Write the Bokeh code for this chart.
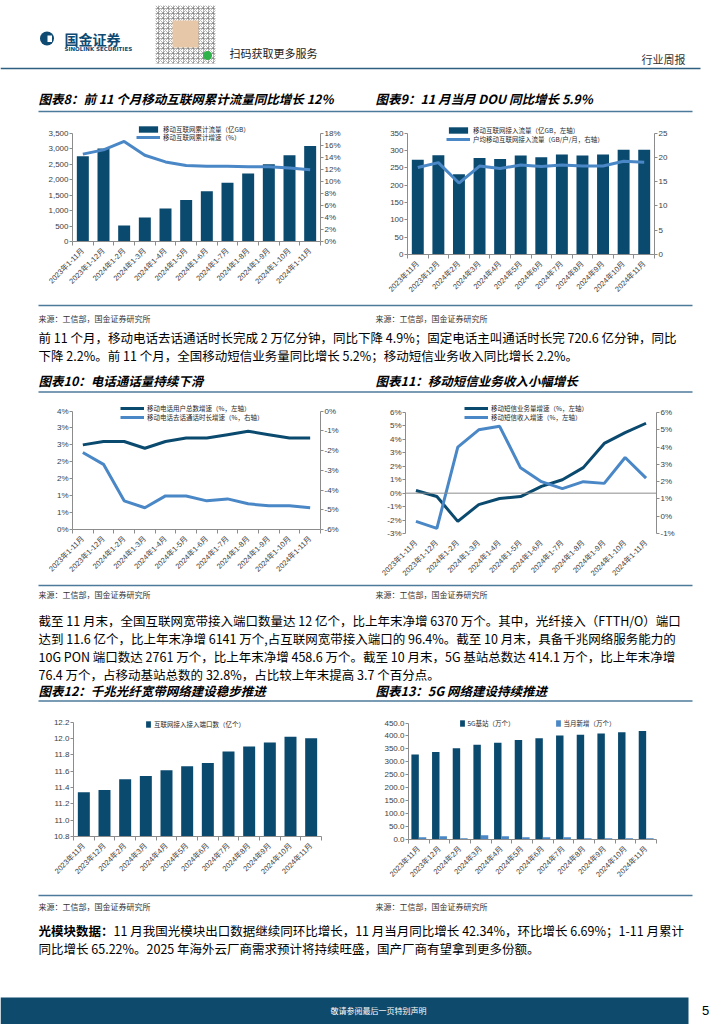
import math
from bokeh.plotting import figure
from bokeh.models import (Range1d, LinearAxis, FixedTicker, Legend, LegendItem, Span,
                          NumeralTickFormatter, PrintfTickFormatter, ColumnDataSource)
from bokeh.transform import dodge
from bokeh.layouts import column, row
from bokeh.embed import file_html
from bokeh.resources import INLINE
from bokeh.core.properties import value

# ---------------- data ----------------
cats_cum = ["2023年1-11月", "2023年1-12月", "2024年1-2月", "2024年1-3月", "2024年1-4月", "2024年1-5月",
            "2024年1-6月", "2024年1-7月", "2024年1-8月", "2024年1-9月", "2024年1-10月", "2024年1-11月"]
cats_month = ["2023年11月", "2023年12月", "2024年2月", "2024年3月", "2024年4月", "2024年5月",
              "2024年6月", "2024年7月", "2024年8月", "2024年9月", "2024年10月", "2024年11月"]

traffic_cum = [2750, 3000, 520, 775, 1065, 1335, 1625, 1895, 2195, 2490, 2780, 3080]      # 亿GB
traffic_cum_yoy = [14.5, 15.2, 16.6, 14.3, 13.2, 12.6, 12.5, 12.5, 12.4, 12.4, 12.2, 11.9]  # %

traffic_month = [273, 286, 231, 278, 275, 285, 280, 288, 285, 288, 302, 302]               # 亿GB
dou = [17.9, 18.9, 14.7, 18.2, 17.7, 18.4, 18.1, 18.4, 18.2, 18.2, 19.2, 19.0]             # GB/户/月

users_yoy = [2.5, 2.6, 2.6, 2.4, 2.6, 2.7, 2.7, 2.8, 2.9, 2.8, 2.7, 2.7]                   # %
call_yoy = [-2.1, -2.7, -4.55, -4.9, -4.3, -4.3, -4.55, -4.45, -4.7, -4.8, -4.8, -4.9]       # %
users_ticks = [0, 0.5, 1.0, 1.5, 2.0, 2.5, 3.0, 3.5]
users_tick_labels = ["0%", "1%", "1%", "2%", "2%", "3%", "3%", "4%"]

sms_volume_yoy = [0.2, -0.25, -2.1, -0.85, -0.4, -0.25, 0.5, 1.0, 1.9, 3.7, 4.5, 5.2]     # %
sms_revenue_yoy = [-0.3, -0.7, 4.0, 5.0, 5.2, 2.8, 2.0, 1.6, 2.0, 1.9, 3.4, 2.2]          # %

ports = [11.34, 11.37, 11.50, 11.54, 11.61, 11.66, 11.70, 11.84, 11.90, 11.95, 12.02, 12.00]  # 亿个

base_5g = [328, 338, 352, 366, 374, 384, 391, 402, 405, 409, 414, 419]                     # 万个
new_5g = [9, 12.8, 5, 16.7, 12.8, 9, 9, 9, 5, 5, 5, 5]                                     # 万个

# ---------------- styles ----------------
DARK = "#0b4a6f"
LIGHT = "#4a87c6"
RULE = "#4c7a9b"
AXIS = "#8c8c8c"
LABEL = "#404040"
CJK = "Noto Sans CJK SC"
LAT = "Liberation Sans, Noto Sans CJK SC"

PAGE_W = 724


def page_block(top, bottom):
    p = figure(width=PAGE_W, height=bottom - top, x_range=Range1d(0, PAGE_W),
               y_range=Range1d(bottom, top), x_axis_type=None, y_axis_type=None,
               output_backend="svg", toolbar_location=None, min_border=0)
    p.outline_line_color = None
    return p


def txt(p, x, y, s, size, color="#000000", font=CJK, style="normal", align="left"):
    p.text(x=[x], y=[y], text=[s], text_font=value(font), text_font_size=value(f"{size}px"),
           text_color=color, text_font_style=style, text_align=align, text_baseline="middle")


def rule(p, y, x0=38, x1=692, color=RULE, w=1.5):
    p.segment(x0=[x0], y0=[y], x1=[x1], y1=[y], line_color=color, line_width=w)


def padded(lo, hi, tick_px, top_px, bot_px):
    # range end so that the top tick sits `tick_px - top_px` pixels below the frame top
    return hi + (tick_px - top_px) / (bot_px - tick_px) * (hi - lo)


def base_chart(block_top, block_bottom, left_x, right_x, fig_x0, fig_x1, frame_top, frame_bottom,
               tick_top, ymin, ymax, n):
    p = figure(width=fig_x1 - fig_x0, height=block_bottom - block_top,
               x_range=Range1d(-0.5, n - 0.5),
               y_range=Range1d(ymin, padded(ymin, ymax, tick_top, frame_top, frame_bottom)),
               x_axis_type=None, y_axis_type=None, output_backend="svg", toolbar_location=None,
               min_border_left=left_x - fig_x0, min_border_right=fig_x1 - right_x,
               min_border_top=frame_top - block_top, min_border_bottom=block_bottom - frame_bottom,
               frame_align=False)
    p.outline_line_color = None
    return p


def x_axis(p, cats, show_line=True):
    n = len(cats)
    ax = LinearAxis(ticker=FixedTicker(ticks=list(range(n)), minor_ticks=[i - 0.5 for i in range(n + 1)]),
                    major_label_overrides={i: c for i, c in enumerate(cats)})
    ax.major_label_orientation = math.pi / 4
    ax.major_tick_line_color = None
    ax.major_tick_out = 0
    ax.minor_tick_line_color = AXIS if show_line else None
    ax.minor_tick_out = 4
    ax.minor_tick_in = 0
    ax.axis_line_color = AXIS if show_line else None
    ax.major_label_text_font_size = "7.5px"
    ax.major_label_text_font = LAT
    ax.major_label_text_color = LABEL
    ax.major_label_standoff = 4
    p.add_layout(ax, "below")


def y_axis(p, ticks, side, fmt=None, overrides=None, range_name="default"):
    ax = LinearAxis(ticker=FixedTicker(ticks=ticks), y_range_name=range_name,
                    bounds=(min(ticks), max(ticks)))
    if fmt is not None:
        ax.formatter = fmt
    if overrides is not None:
        ax.major_label_overrides = overrides
    ax.axis_line_color = AXIS
    ax.major_tick_line_color = AXIS
    ax.major_tick_out = 3
    ax.major_tick_in = 0
    ax.minor_tick_line_color = None
    ax.major_label_text_font_size = "8px"
    ax.major_label_text_font = LAT
    ax.major_label_text_color = LABEL
    ax.major_label_standoff = 1
    p.add_layout(ax, side)


def legend(p, label, r, gx, gy, fl, fb, gw=24, gh=8):
    lg = Legend(items=[LegendItem(label=value(label), renderers=[r])],
                location=(gx - fl, fb - (gy + gh / 2)), orientation="vertical",
                padding=0, margin=0, spacing=0, glyph_width=gw, glyph_height=gh, label_height=gh,
                label_standoff=3, label_text_font=CJK, label_text_font_size="6.5px",
                label_text_color="#262626", border_line_color=None, background_fill_alpha=0)
    p.add_layout(lg)


idx = list(range(12))

# ---------------- block A: header + titles 8/9 (page y 0..113) ----------------
A = page_block(0, 113)
A.scatter(x=[46.5], y=[38], size=14, marker="circle", fill_color="#0e4a72", line_color=None)
A.quad(left=[47], right=[51.5], top=[35], bottom=[41.5], fill_color="white", line_color=None)
txt(A, 64, 38, "国金证券", 14, "#0e4a72", CJK, "bold")
txt(A, 64, 48.5, "SINOLINK SECURITIES", 5.5, "#0e4a72", "DejaVu Sans", "bold")
A.quad(left=[155], right=[215], top=[5], bottom=[63], fill_color="white", line_color=None,
       hatch_pattern="criss_cross", hatch_color="#777777", hatch_scale=5, hatch_alpha=0.55)
A.quad(left=[172], right=[198], top=[20], bottom=[47], fill_color="#e6c8a8", line_color=None)
A.scatter(x=[207], y=[55], size=9, marker="circle", fill_color="#2fb34a", line_color=None)
txt(A, 229, 52, "扫码获取更多服务", 11, "#222222")
txt(A, 641, 58, "行业周报", 11, "#333333")
rule(A, 68, 0, 700, "#2f5f80", 1.5)
txt(A, 38, 98, "图表8：前 11 个月移动互联网累计流量同比增长 12%", 12.5, "#000000", CJK, "bold italic")
txt(A, 375, 98, "图表9：11 月当月 DOU 同比增长 5.9%", 12.5, "#000000", CJK, "bold italic")
rule(A, 111)

# ---------------- block B: charts 8/9 (page y 113..303) ----------------
f8 = base_chart(113, 303, 72, 320, 0, 366, 120, 241, 132.5, 0, 3500, 12)
f8.extra_y_ranges = {"r": Range1d(0, padded(0, 18, 132.5, 120, 241))}
b8 = f8.vbar(x=idx, top=traffic_cum, width=0.58, bottom=0, fill_color=DARK, line_color=None)
l8 = f8.line(x=idx, y=traffic_cum_yoy, y_range_name="r", line_color=LIGHT, line_width=3)
x_axis(f8, cats_cum)
y_axis(f8, list(range(0, 3501, 500)), "left", NumeralTickFormatter(format="0,0"))
y_axis(f8, list(range(0, 19, 2)), "right", PrintfTickFormatter(format="%d%%"), range_name="r")
legend(f8, "移动互联网累计流量（亿GB）", b8, 136, 130, 72, 241)
legend(f8, "移动互联网累计增速（%）", l8, 136, 138, 72, 241)

f9 = base_chart(113, 303, 407, 654, 366, 724, 121, 254, 132.5, 0, 350, 12)
f9.extra_y_ranges = {"r": Range1d(0, padded(0, 25, 132.5, 121, 254))}
b9 = f9.vbar(x=idx, top=traffic_month, width=0.58, bottom=0, fill_color=DARK, line_color=None)
l9 = f9.line(x=idx, y=dou, y_range_name="r", line_color=LIGHT, line_width=3)
x_axis(f9, cats_month)
y_axis(f9, list(range(0, 351, 50)), "left")
y_axis(f9, list(range(0, 26, 5)), "right", range_name="r")
legend(f9, "移动互联网接入流量（亿GB，左轴）", b9, 446, 131, 407, 254)
legend(f9, "户均移动互联网接入流量（GB/户/月，右轴）", l9, 446, 139.5, 407, 254)

# ---------------- block C: text (page y 303..393) ----------------
C = page_block(303, 393)
rule(C, 305)
txt(C, 38, 318, "来源：工信部，国金证券研究所", 8, "#333333")
txt(C, 375, 318, "来源：工信部，国金证券研究所", 8, "#333333")
txt(C, 38, 337, "前 11 个月，移动电话去话通话时长完成 2 万亿分钟，同比下降 4.9%；固定电话主叫通话时长完 720.6 亿分钟，同比", 12.5)
txt(C, 38, 355, "下降 2.2%。前 11 个月，全国移动短信业务量同比增长 5.2%；移动短信业务收入同比增长 2.2%。", 12.5)
txt(C, 38, 380, "图表10：电话通话量持续下滑", 12.5, "#000000", CJK, "bold italic")
txt(C, 375, 380, "图表11：移动短信业务收入小幅增长", 12.5, "#000000", CJK, "bold italic")
rule(C, 391.5)

# ---------------- block D: charts 10/11 (page y 393..583) ----------------
f10 = base_chart(393, 583, 72, 320, 0, 366, 399, 529, 410.5, 0, 3.5, 12)
f10.extra_y_ranges = {"r": Range1d(-6, padded(-6, 0, 410.5, 399, 529))}
l10a = f10.line(x=idx, y=users_yoy, line_color=DARK, line_width=3)
l10b = f10.line(x=idx, y=call_yoy, y_range_name="r", line_color=LIGHT, line_width=3)
x_axis(f10, cats_cum)
y_axis(f10, users_ticks, "left", overrides={t: s for t, s in zip(users_ticks, users_tick_labels)})
y_axis(f10, list(range(-6, 1)), "right", PrintfTickFormatter(format="%d%%"), range_name="r")
legend(f10, "移动电话用户总数增速（%，左轴）", l10a, 120, 409, 72, 529)
legend(f10, "移动电话去话通话时长增速（%，右轴）", l10b, 120, 417.5, 72, 529)

f11 = base_chart(393, 583, 405, 656, 366, 724, 399, 533, 412, -3, 6, 12)
f11.extra_y_ranges = {"r": Range1d(-1, padded(-1, 6, 412, 399, 533))}
f11.add_layout(Span(location=0, dimension="width", line_color=AXIS, line_width=1))
l11a = f11.line(x=idx, y=sms_volume_yoy, line_color=DARK, line_width=3)
l11b = f11.line(x=idx, y=sms_revenue_yoy, y_range_name="r", line_color=LIGHT, line_width=3)
x_axis(f11, cats_cum, show_line=False)
y_axis(f11, list(range(-3, 7)), "left", PrintfTickFormatter(format="%d%%"))
y_axis(f11, list(range(-1, 7)), "right", PrintfTickFormatter(format="%d%%"), range_name="r")
legend(f11, "移动短信业务量增速（%，左轴）", l11a, 464, 409, 405, 533)
legend(f11, "移动短信收入增速（%，左轴）", l11b, 464, 418, 405, 533)

# ---------------- block E: text (page y 583..702) ----------------
E = page_block(583, 702)
rule(E, 585)
txt(E, 38, 594, "来源：工信部，国金证券研究所", 8, "#333333")
txt(E, 375, 594, "来源：工信部，国金证券研究所", 8, "#333333")
txt(E, 38, 620, "截至 11 月末，全国互联网宽带接入端口数量达 12 亿个，比上年末净增 6370 万个。其中，光纤接入（FTTH/O）端口", 12.5)
txt(E, 38, 638, "达到 11.6 亿个，比上年末净增 6141 万个,占互联网宽带接入端口的 96.4%。截至 10 月末，具备千兆网络服务能力的", 12.5)
txt(E, 38, 656, "10G  PON 端口数达 2761 万个，比上年末净增 458.6 万个。截至 10 月末，5G 基站总数达 414.1 万个，比上年末净增", 12.5)
txt(E, 38, 674, "76.4 万个，占移动基站总数的 32.8%，占比较上年末提高 3.7 个百分点。", 12.5)
txt(E, 38, 690, "图表12：千兆光纤宽带网络建设稳步推进", 12.5, "#000000", CJK, "bold italic")
txt(E, 375, 690, "图表13：5G 网络建设持续推进", 12.5, "#000000", CJK, "bold italic")
rule(E, 700.5)

# ---------------- block F: charts 12/13 (page y 702..893) ----------------
f12 = base_chart(702, 893, 73, 321, 0, 366, 714, 836, 721.5, 10.8, 12.2, 12)
b12 = f12.vbar(x=idx, top=ports, bottom=10.8, width=0.58, fill_color=DARK, line_color=None)
x_axis(f12, cats_month)
y_axis(f12, [round(10.8 + 0.2 * i, 1) for i in range(8)], "left", NumeralTickFormatter(format="0.0"))
legend(f12, "互联网接入接入端口数（亿个）", b12, 145, 724.5, 73, 836, gw=6, gh=8)

src13 = ColumnDataSource(dict(x=idx, base=base_5g, new=new_5g))
f13 = base_chart(702, 893, 408, 656, 366, 724, 714, 839, 722.5, 0, 450, 12)
b13a = f13.vbar(x=dodge("x", -0.18, range=f13.x_range), top="base", width=0.36, source=src13,
                fill_color=DARK, line_color=None)
b13b = f13.vbar(x=dodge("x", 0.18, range=f13.x_range), top="new", width=0.36, source=src13,
                fill_color=LIGHT, line_color=None)
x_axis(f13, cats_month)
y_axis(f13, list(range(0, 451, 50)), "left", NumeralTickFormatter(format="0.0"))
legend(f13, "5G基站（万个）", b13a, 458.5, 724, 408, 839, gw=6, gh=8)
legend(f13, "当月新增（万个）", b13b, 554.5, 724, 408, 839, gw=6, gh=8)

# ---------------- block G: text + footer (page y 893..1024) ----------------
G = page_block(893, 1024)
rule(G, 895)
txt(G, 38, 906, "来源：工信部，国金证券研究所", 8, "#333333")
txt(G, 375, 906, "来源：工信部，国金证券研究所", 8, "#333333")
txt(G, 38, 930, "光模块数据：", 12.5, "#000000", CJK, "bold")
txt(G, 113, 930, "11 月我国光模块出口数据继续同环比增长，11 月当月同比增长 42.34%，环比增长 6.69%；1-11 月累计", 12.5)
txt(G, 38, 948, "同比增长 65.22%。2025 年海外云厂商需求预计将持续旺盛，国产厂商有望拿到更多份额。", 12.5)
G.quad(left=[0], right=[688], top=[997], bottom=[1024], fill_color="#0d4a6c", line_color=None)
txt(G, 330, 1010, "敬请参阅最后一页特别声明", 8, "#ffffff")
txt(G, 705, 1010, "5", 13, "#000000", "Liberation Sans", "normal", "center")

page = column(A, row(f8, f9), C, row(f10, f11), E, row(f12, f13), G)

open("out.html", "w").write(file_html(page, INLINE))
